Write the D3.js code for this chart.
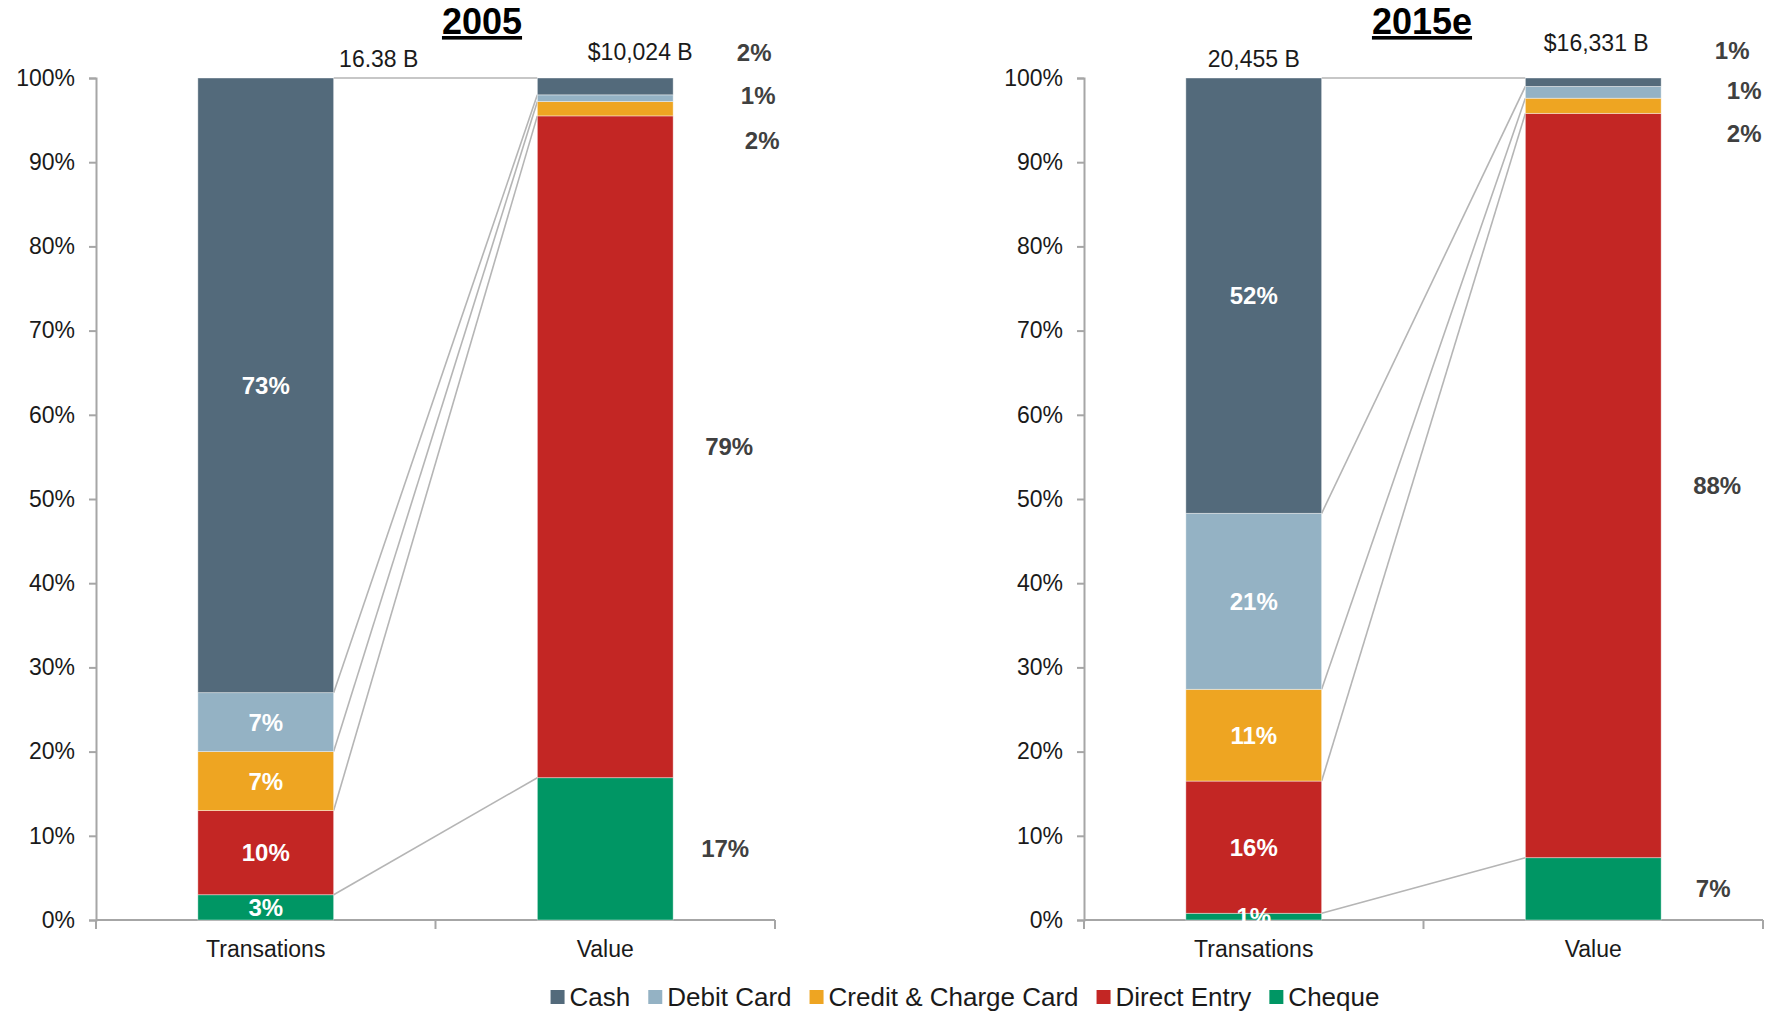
<!DOCTYPE html>
<html>
<head>
<meta charset="utf-8">
<script src="https://cdn.jsdelivr.net/npm/d3@7"></script>
<style>
  body { margin: 0; background: #fff; }
  svg { font-family: 'Liberation Sans', Arial, sans-serif; }
</style>
</head>
<body>
<svg width="1767" height="1016"></svg>
<script>
'use strict'

// data, series order top to bottom of the stack
const categories = ['Transations', 'Value']
const series = ['Cash', 'Debit Card', 'Credit & Charge Card', 'Direct Entry', 'Cheque']
const colors = ['#536a7b', '#94b2c4', '#eea522', '#c32624', '#009664']
const years = ['2005', '2015e']
const totals2005 = ['16.38 B', '$10,024 B']
const totals2015 = ['20,455 B', '$16,331 B']
const trans2005 = [73, 7, 7, 10, 3]
const value2005 = [2.0, 0.8, 1.7, 78.6, 16.9]
const trans2015 = [51.7, 20.9, 10.9, 15.7, 0.8]
const value2015 = [1.0, 1.4, 1.8, 88.4, 7.4]
const yTicks = [0, 10, 20, 30, 40, 50, 60, 70, 80, 90, 100]

// layout per panel
const panels = [
  { year: years[0], totals: totals2005, trans: trans2005, value: value2005, x0: 96,
    titleX: 482, totalY: [59, 52], totalDx: [113, 35],
    small: [{ dx: 81, y: 52 }, { dx: 85, y: 95 }, { dx: 89, y: 140 }] },
  { year: years[1], totals: totals2015, trans: trans2015, value: value2015, x0: 1084,
    titleX: 1422, totalY: [59, 43], totalDx: [0, 3],
    small: [{ dx: 71, y: 50 }, { dx: 83, y: 90 }, { dx: 83, y: 133 }] }
]
const plotW = 679

const svg = d3.select('svg')
const y = d3.scaleLinear().domain([0, 100]).range([920, 78])
const stackKeys = series.slice().reverse()
const fmt = (v) => `${Math.round(v)}%`

panels.forEach((p) => {
  const x = d3.scaleBand().domain(categories).range([p.x0, p.x0 + plotW])
    .paddingInner(0.6).paddingOuter(0.3)
  const rows = [p.trans, p.value].map((vals, i) => {
    const r = { cat: categories[i] }
    series.forEach((s, j) => { r[s] = vals[j] })
    return r
  })
  const stacked = d3.stack().keys(stackKeys)(rows)
  const g = svg.append('g')

  // title
  g.append('text')
    .attr('x', p.titleX).attr('y', 34)
    .attr('text-anchor', 'middle')
    .style('font-size', '36px').style('font-weight', 'bold')
    .style('text-decoration', 'underline')
    .text(p.year)

  // y axis
  const yAxis = g.append('g')
    .attr('transform', `translate(${p.x0},0)`)
    .call(d3.axisLeft(y).tickValues(yTicks).tickFormat((d) => `${d}%`).tickSize(7).tickPadding(14))
  yAxis.select('.domain').attr('stroke', '#a6a6a6').attr('stroke-width', 2)
  yAxis.selectAll('.tick line').attr('stroke', '#a6a6a6').attr('stroke-width', 2)
  yAxis.selectAll('.tick text').style('font-size', '23px').attr('fill', '#1a1a1a')
    .style('font-family', "'Liberation Sans', Arial, sans-serif")

  // x axis
  const bounds = [p.x0, p.x0 + x.step(), p.x0 + plotW]
  g.append('line')
    .attr('x1', p.x0).attr('x2', p.x0 + plotW)
    .attr('y1', y(0)).attr('y2', y(0))
    .attr('stroke', '#a6a6a6').attr('stroke-width', 2)
  g.selectAll('line.xtick').data(bounds).enter().append('line')
    .attr('x1', (d) => d).attr('x2', (d) => d)
    .attr('y1', y(0)).attr('y2', y(0) + 9)
    .attr('stroke', '#a6a6a6').attr('stroke-width', 2)
  g.selectAll('text.cat').data(categories).enter().append('text')
    .attr('x', (d) => x(d) + x.bandwidth() / 2)
    .attr('y', 957)
    .attr('text-anchor', 'middle')
    .style('font-size', '23px').attr('fill', '#1a1a1a')
    .text((d) => d)

  // connector lines between the two bars
  const tRight = x(categories[0]) + x.bandwidth()
  const vLeft = x(categories[1])
  stacked.forEach((layer) => {
    g.append('line')
      .attr('x1', tRight).attr('y1', y(layer[0][1]))
      .attr('x2', vLeft).attr('y2', y(layer[1][1]))
      .attr('stroke', '#b5b5b5').attr('stroke-width', 1.6)
  })

  // bars
  g.selectAll('g.layer').data(stacked).enter().append('g')
    .attr('fill', (d) => colors[series.indexOf(d.key)])
    .selectAll('rect').data((d) => d).enter().append('rect')
    .attr('x', (d) => x(d.data.cat))
    .attr('width', x.bandwidth())
    .attr('y', (d) => y(d[1]))
    .attr('height', (d) => y(d[0]) - y(d[1]))
    .attr('stroke', '#ffffff').attr('stroke-opacity', 0.5).attr('stroke-width', 0.8)

  // labels inside transaction bar
  stacked.forEach((layer) => {
    const d = layer[0]
    g.append('text')
      .attr('x', x(categories[0]) + x.bandwidth() / 2)
      .attr('y', y((d[0] + d[1]) / 2))
      .attr('dy', '0.36em')
      .attr('text-anchor', 'middle')
      .style('font-size', '24px').style('font-weight', 'bold')
      .attr('fill', '#ffffff')
      .text(fmt(d[1] - d[0]))
  })

  // labels to the right of value bar
  const vRight = vLeft + x.bandwidth()
  let si = 0
  series.forEach((s, j) => {
    const layer = stacked.find((l) => l.key === s)
    const d = layer[1]
    const v = d[1] - d[0]
    let lx, ly
    if (v < 5) {
      lx = vRight + p.small[si].dx
      ly = p.small[si].y
      si++
    } else {
      lx = vRight + (v > 50 ? 56 : 52)
      ly = y((d[0] + d[1]) / 2)
    }
    g.append('text')
      .attr('x', lx).attr('y', ly)
      .attr('dy', '0.36em')
      .attr('text-anchor', 'middle')
      .style('font-size', '24px').style('font-weight', 'bold')
      .attr('fill', '#404040')
      .text(fmt(v))
  })

  // totals above bars
  categories.forEach((c, i) => {
    g.append('text')
      .attr('x', x(c) + x.bandwidth() / 2 + p.totalDx[i])
      .attr('y', p.totalY[i])
      .attr('dy', '0.36em')
      .attr('text-anchor', 'middle')
      .style('font-size', '23px').attr('fill', '#1a1a1a')
      .text(p.totals[i])
  })
})

// legend
const legendY = 997
const legend = svg.append('g')
let lx = 0
series.forEach((s, i) => {
  const it = legend.append('g')
  it.append('rect').attr('x', 0).attr('y', -7).attr('width', 14).attr('height', 14)
    .attr('fill', colors[i])
  const t = it.append('text').attr('x', 19).attr('dy', '0.36em')
    .style('font-size', '26px').attr('fill', '#1a1a1a').text(s)
  const w = 19 + t.node().getComputedTextLength()
  it.attr('transform', `translate(${lx},0)`)
  lx += w + 18
})
const totalW = lx - 18
legend.attr('transform', `translate(${965 - totalW / 2},${legendY})`)
</script>
</body>
</html>
